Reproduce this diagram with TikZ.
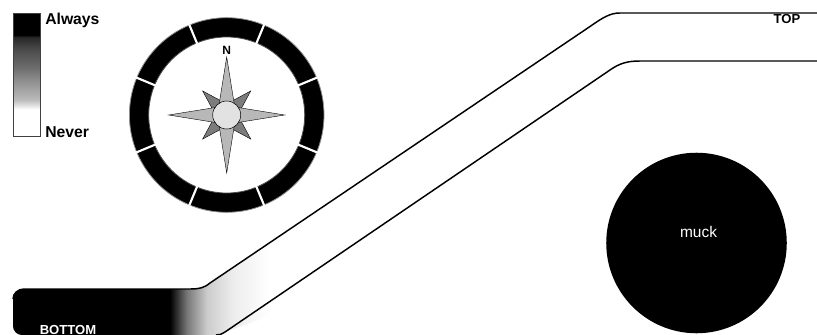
\documentclass[tikz,border=0pt]{standalone}
\usepackage{fontspec}
\setmainfont{Liberation Sans}
\usetikzlibrary{calc}
\definecolor{BarEdge}{HTML}{404040}
\definecolor{RayLight}{HTML}{B8B8B8}
\definecolor{RayDark}{HTML}{7C7C7C}
\definecolor{HubGray}{HTML}{E2E2E2}
\pgfdeclareverticalshading{legendfade}{100bp}{
    color(0bp)=(white); color(35.9bp)=(white); color(39.9bp)=(black!27);
    color(46.8bp)=(black!42); color(53.3bp)=(black!58); color(60.2bp)=(black!70);
    color(65.5bp)=(black!85); color(66.3bp)=(black); color(100bp)=(black)}
\pgfdeclarehorizontalshading{bandfade}{100bp}{
    color(0bp)=(black); color(25bp)=(black); color(33.5bp)=(black!53);
    color(43.5bp)=(black!20); color(56.5bp)=(black!7); color(75bp)=(white); color(100bp)=(white)}

\begin{document}
\begin{tikzpicture}[
    x=0.75pt, y=-0.75pt,
    lbl/.style={font=\fontsize{11.8}{13}\selectfont\bfseries, inner sep=0pt},
    smalllbl/.style={font=\fontsize{9.8}{11}\selectfont\bfseries, inner sep=0pt},
    wall/.style={draw=black, line width=1.1pt},
    longray/.style={draw=black, line width=0.3pt, fill=RayLight},
    shortray/.style={draw=black, line width=0.3pt, fill=RayDark}
]
\useasboundingbox (0,0) rectangle (817,335);

% =============================================
% Legend bar
% =============================================
\node[draw=BarEdge, line width=0.8pt, shading=legendfade, minimum width=19.8pt,
      minimum height=91.8pt, inner sep=0pt] (bar) at (27,75) {};
\node[lbl, anchor=base west] (always) at (45,25) {Always};
\node[lbl, anchor=base west] (never) at (45,137) {Never};

% =============================================
% Compass
% =============================================
\coordinate (compass) at (226.7,115);
\fill[black] (compass) circle[radius=97.3];
\draw[black!45, line width=0.6pt] (compass) circle[radius=97.3];
\fill[white] (compass) circle[radius=78];
\draw[black!70, line width=0.6pt] (compass) circle[radius=78];

% white ticks on the ring
\foreach \a in {22.5,67.5,...,337.5} {
    \draw[white, line width=1.6pt] ($(compass)+(\a:77)$) -- ($(compass)+(\a:98)$);
}

% short rays
\foreach \a in {45,135,225,315} {
    \draw[shortray] ($(compass)+(\a-32:13)$) -- ($(compass)+(\a:34)$) -- ($(compass)+(\a+32:13)$) -- cycle;
}

% long rays
\foreach \a in {0,90,180,270} {
    \draw[longray] ($(compass)+(\a-32:14)$) -- ($(compass)+(\a:58)$) -- ($(compass)+(\a+32:14)$) -- cycle;
}

\draw[black, line width=0.4pt, fill=HubGray] (compass) circle[radius=14];
\node[smalllbl, font=\fontsize{9}{10}\selectfont\bfseries] (north) at (226.7,50) {N};

% =============================================
% Channel
% =============================================
\begin{scope}
    \clip (13,299) .. controls (13,293.5) and (18,289) .. (24,289) -- (190,289)
        .. controls (199,289) and (204,288) .. (210,283) -- (290,229) -- (370,280) -- (225,332)
        .. controls (221,334.5) and (219,335) .. (216,335) -- (22,335)
        .. controls (17,335) and (13,331) .. (13,326) -- cycle;
    \fill[black] (13,280) rectangle (171,335);
    \shade[shading=bandfade] (170,225) rectangle (270,335);
\end{scope}

\draw[wall] (13,299) .. controls (13,293.5) and (18,289) .. (24,289) -- (190,289)
    .. controls (199,289) and (204,288) .. (210,283) -- (590,26.5)
    .. controls (603,17.5) and (610,13) .. (620,13) -- (817,13);
\draw[wall] (216,335) .. controls (219,335) and (221,334.5) .. (225,332) -- (610,70)
    .. controls (620,63) and (628,61) .. (640,61) -- (817,61);

\node[smalllbl, anchor=base] (top) at (787,24) {TOP};
\node[smalllbl, text=white, anchor=base] (bottom) at (68,334) {BOTTOM};

% =============================================
% Muck
% =============================================
\node[circle, fill=black, minimum size=135.4pt, inner sep=0pt] (muck) at (696.5,243) {};
\node[text=white, inner sep=0pt, font=\fontsize{11.6}{13}\selectfont, anchor=base] (mucklbl) at (698.5,237) {muck};

\end{tikzpicture}
\end{document}
